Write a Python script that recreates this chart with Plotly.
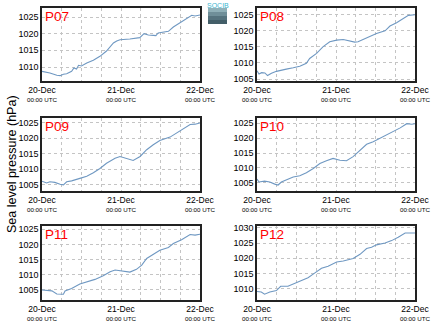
import plotly.graph_objects as go

# ---- data (hours since 20-Dec 00:00 UTC, pressure hPa) ----
stations = ["P07", "P08", "P09", "P10", "P11", "P12"]

p07_h = [0, 2.4, 4.5, 5.5, 6.5, 7.5, 9, 9.7, 10.5, 11.1, 12, 13.6, 15.6, 17.6, 19.6, 21.7, 22.7, 23.7, 26.7, 28.7, 29.7, 31, 32.3, 33.8, 34.6, 35.3, 36.9, 38.4, 39.9, 41.9, 44, 45.5, 46.5, 48]
p07_v = [1008.7, 1008.2, 1007.5, 1007.4, 1007.8, 1008.0, 1008.7, 1009.7, 1009.4, 1010.5, 1010.3, 1011.2, 1012.0, 1013.2, 1014.8, 1017.2, 1017.8, 1018.2, 1018.4, 1018.8, 1018.8, 1020.0, 1019.6, 1019.5, 1019.4, 1020.2, 1020.4, 1020.7, 1022.0, 1023.2, 1024.5, 1025.5, 1025.3, 1025.6]

p08_h = [0, 0.6, 1.4, 2.4, 3.2, 4.4, 5.9, 7.4, 8.9, 11, 13, 15, 16, 18.1, 20.1, 22.1, 24.2, 26.2, 28.2, 29.7, 30.7, 32.3, 34.3, 36.3, 38.9, 40.4, 42.4, 44.5, 46, 48]
p08_v = [1007.6, 1006.6, 1007.0, 1006.9, 1006.1, 1006.8, 1007.4, 1007.8, 1008.1, 1008.5, 1009.0, 1009.9, 1011.4, 1013.0, 1015.1, 1016.6, 1017.1, 1017.3, 1016.9, 1016.5, 1016.6, 1017.3, 1018.4, 1019.2, 1020.0, 1021.5, 1022.5, 1023.9, 1024.8, 1025.0]

p09_h = [0, 1.4, 2.4, 3.9, 5.5, 6.5, 7.5, 9, 11.5, 13.6, 15.6, 17.6, 19.6, 22.2, 23.7, 25.7, 27.7, 29.8, 31.8, 33.8, 35.8, 38.9, 40.9, 42.9, 45, 46.5, 48]
p09_v = [1006.1, 1005.5, 1005.9, 1005.7, 1005.1, 1004.9, 1005.9, 1006.2, 1007.0, 1007.7, 1008.8, 1010.2, 1011.9, 1013.5, 1014.1, 1013.5, 1012.8, 1014.1, 1016.3, 1017.9, 1019.3, 1020.4, 1021.7, 1023.0, 1024.5, 1024.6, 1025.0]

p10_h = [0, 0.6, 2.3, 3.9, 5.4, 6.4, 7.4, 8.9, 11, 13, 15, 17.1, 19.1, 21.1, 23.1, 25.2, 27.2, 29.2, 31.3, 33.3, 35.3, 38.4, 40.4, 43.5, 45.5, 47, 48]
p10_v = [1006.3, 1005.3, 1005.6, 1005.3, 1004.6, 1004.3, 1005.3, 1005.9, 1007.0, 1007.4, 1008.4, 1009.8, 1011.5, 1012.4, 1013.2, 1012.6, 1012.4, 1013.8, 1016.0, 1017.9, 1018.8, 1020.5, 1021.6, 1023.4, 1024.8, 1024.6, 1024.8]

p11_h = [0, 1.4, 3, 4.5, 6.5, 7, 9, 11.5, 13.6, 16.1, 18.6, 20.7, 22.2, 24.7, 26.7, 28.7, 30.3, 31.8, 33.8, 35.8, 38.4, 39.9, 42.4, 45, 46.5, 48]
p11_v = [1005.0, 1004.8, 1004.7, 1003.7, 1003.6, 1004.7, 1005.5, 1007.0, 1007.7, 1008.5, 1009.7, 1011.0, 1011.6, 1011.2, 1010.9, 1011.8, 1013.2, 1015.4, 1016.8, 1018.1, 1019.0, 1020.3, 1021.6, 1023.3, 1023.1, 1023.4]

p12_h = [0, 1.3, 2.3, 3.9, 5.9, 7.2, 9.4, 11.5, 13.5, 15.5, 17.6, 19.6, 21.6, 24.2, 26.2, 29.2, 31.3, 33.3, 34.8, 36.3, 38.9, 40.9, 42.9, 45, 48]
p12_v = [1009.1, 1008.9, 1008.2, 1008.9, 1009.4, 1010.8, 1010.8, 1011.7, 1012.7, 1013.6, 1015.2, 1016.7, 1017.4, 1018.8, 1019.1, 1019.9, 1021.3, 1023.2, 1023.6, 1024.4, 1025.0, 1025.8, 1026.9, 1028.3, 1028.3]

series_h = [p07_h, p08_h, p09_h, p10_h, p11_h, p12_h]
series_v = [p07_v, p08_v, p09_v, p10_v, p11_v, p12_v]

y_ranges = [[1005.8, 1027.7], [1004.4, 1027.1], [1002.9, 1026.6],
            [1002.3, 1026.7], [1001.7, 1026.1], [1006.3, 1030.6]]
y_ticks = [[1010, 1015, 1020, 1025], [1005, 1010, 1015, 1020, 1025],
           [1005, 1010, 1015, 1020, 1025], [1005, 1010, 1015, 1020, 1025],
           [1005, 1010, 1015, 1020, 1025], [1010, 1015, 1020, 1025, 1030]]

x_tickvals = [0, 24, 48]
x_ticktext = ["20-Dec", "21-Dec", "22-Dec"]
x_subtext = "00:00 UTC"

# ---- layout geometry ----
W, H = 434, 327
col_px = [(42, 200), (257, 415)]
row_px = [(8, 81), (118, 191), (226, 300)]

fig = go.Figure()
layout = dict(
    width=W, height=H, margin=dict(l=0, r=0, t=0, b=0, pad=0),
    paper_bgcolor="white", plot_bgcolor="white", showlegend=False,
    font=dict(family="Liberation Sans, Arial, sans-serif", color="black"),
)
annotations = []
shapes = []
line_color = "#6f98c2"
grid_color = "#c4c4c4"

for i, name in enumerate(stations):
    r, c = divmod(i, 2)
    xa = "x" if i == 0 else f"x{i+1}"
    ya = "y" if i == 0 else f"y{i+1}"
    x0, x1 = col_px[c]
    y0, y1 = row_px[r]
    fig.add_trace(go.Scatter(x=series_h[i], y=series_v[i], mode="lines",
                             line=dict(color=line_color, width=1.1),
                             xaxis=xa, yaxis=ya))
    layout["xaxis" if i == 0 else f"xaxis{i+1}"] = dict(
        domain=[x0 / W, x1 / W], anchor=ya, range=[0, 48],
        tickvals=x_tickvals, ticktext=x_ticktext, tickfont=dict(size=8.5),
        showgrid=True, gridcolor=grid_color, griddash="dot", gridwidth=1,
        minor=dict(tick0=0, dtick=6, showgrid=True, gridcolor=grid_color, griddash="dot", gridwidth=1),
        showline=True, linecolor="#222222", linewidth=1.5, mirror=True,
        ticks="", zeroline=False, fixedrange=True, automargin=False,
    )
    layout["yaxis" if i == 0 else f"yaxis{i+1}"] = dict(
        domain=[1 - y1 / H, 1 - y0 / H], anchor=xa, range=y_ranges[i],
        tickvals=y_ticks[i], tickfont=dict(size=9),
        showgrid=True, gridcolor=grid_color, griddash="dot", gridwidth=1,
        showline=True, linecolor="#222222", linewidth=1.5, mirror=True,
        ticks="", zeroline=False, fixedrange=True, automargin=False,
    )
    annotations.append(dict(
        text=name, xref=f"{xa} domain", yref=f"{ya} domain", x=0.005, y=1.02,
        xanchor="left", yanchor="top", showarrow=False,
        font=dict(size=13.5, color="red"),
    ))
    for tv in x_tickvals:
        annotations.append(dict(
            text=x_subtext, xref=xa, yref=f"{ya} domain", x=tv, y=0,
            yshift=-18, xanchor="center", yanchor="middle", showarrow=False,
            font=dict(size=6.2),
        ))

annotations.append(dict(
    text="Sea level pressure (hPa)", xref="paper", yref="paper",
    x=12 / W, y=1 - 164 / H, textangle=-90, showarrow=False,
    xanchor="center", yanchor="middle", font=dict(size=12.5),
))

# small logo (stacked bands imitate its gradient)
logo_bands = ["#8fb0b8", "#6f8f99", "#55737e", "#435e68"]
band_h = 16 / len(logo_bands)
for k, col in enumerate(logo_bands):
    top = 8 + k * band_h
    shapes.append(dict(type="rect", xref="paper", yref="paper",
                       x0=208 / W, x1=227 / W, y0=1 - (top + band_h) / H, y1=1 - top / H,
                       fillcolor=col, line=dict(width=0)))
annotations.append(dict(
    text="SOCIB", xref="paper", yref="paper", x=217.5 / W, y=1 - 0.5 / H,
    xanchor="center", yanchor="top", showarrow=False,
    font=dict(size=7, color="#3cb6d0"),
))

layout["annotations"] = annotations
layout["shapes"] = shapes
fig.update_layout(**layout)
fig.write_html("out.html", post_script="document.body.style.margin='0';document.body.style.padding='0';")
